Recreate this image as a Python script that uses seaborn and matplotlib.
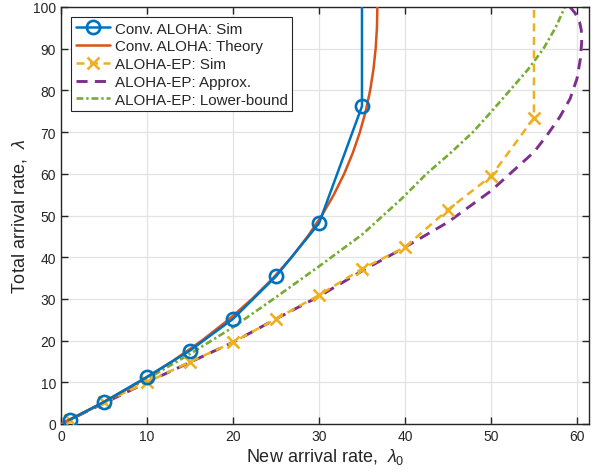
import matplotlib
matplotlib.use("Agg")
import matplotlib.pyplot as plt
import seaborn as sns

# ---- data ----
# Conv. ALOHA: Sim  (x = new arrival rate, y = total arrival rate)
conv_sim_x = [1, 5, 10, 15, 20, 25, 30, 35, 35]
conv_sim_y = [1.0, 5.3, 11.3, 17.6, 25.2, 35.4, 48.1, 76.2, 105]

# Conv. ALOHA: Theory
conv_th_y = [0, 5, 10, 15, 20, 25, 30, 35, 40, 45, 50, 55, 60, 65, 70, 75, 80, 85, 90, 95, 100, 105]
conv_th_x = [0, 4.76, 9.05, 12.91, 16.37, 19.47, 22.22, 24.66, 26.81, 28.69, 30.33, 31.73,
             32.93, 33.93, 34.76, 35.43, 35.95, 36.33, 36.59, 36.74, 36.79, 36.75]

# ALOHA-EP: Sim
ep_sim_x = [1, 5, 10, 15, 20, 25, 30, 35, 40, 45, 50, 55, 55]
ep_sim_y = [1.0, 5.2, 10.0, 14.9, 19.6, 25.2, 30.9, 37.2, 42.4, 51.4, 59.4, 73.4, 105]

# ALOHA-EP: Approx.
ep_apx_y = [0, 5, 10, 19.6, 25.2, 30.6, 36.7, 42.4, 48.4, 55.9, 60, 65.2, 69.2, 73.6, 78,
            82.8, 87.6, 91.6, 94.5, 96.4, 98.5, 100, 102]
ep_apx_x = [0, 5, 10, 20, 25, 30, 35, 40, 45, 50, 52.2, 55, 56.5, 58.0, 59.2,
            60.0, 60.4, 60.55, 60.5, 60.3, 59.8, 59.2, 58.4]

# ALOHA-EP: Lower-bound
ep_lb_y = [0, 5, 10.8, 16.8, 23.2, 30.4, 37.8, 45.4, 54, 60, 65, 70, 74.8, 80, 85, 90, 95, 100, 102]
ep_lb_x = [0, 4.9, 10, 15, 20, 25, 30, 35, 39.6, 42.5, 45.3, 47.9, 50, 52.2, 54.3, 56.1, 57.5, 58.6, 59.0]

labels = ["Conv. ALOHA: Sim", "Conv. ALOHA: Theory", "ALOHA-EP: Sim",
          "ALOHA-EP: Approx.", "ALOHA-EP: Lower-bound"]

# ---- style ----
sns.set_style("ticks")
plt.rcParams['font.family'] = ['Liberation Sans', 'DejaVu Sans']
plt.rcParams['mathtext.fontset'] = 'custom'
plt.rcParams['mathtext.it'] = 'Liberation Sans:italic'
plt.rcParams['mathtext.rm'] = 'Liberation Sans'

BLUE = '#0072BD'
ORANGE = '#D95319'
YELLOW = '#EDB120'
PURPLE = '#7E2F8E'
GREEN = '#77AC30'
DARK = '#262626'

fig = plt.figure(figsize=(6.02, 4.77), dpi=100)
ax = fig.add_axes([61/602, 1 - 425/477, (589-61)/602, (425-8)/477])

LW = 1.8
sns.lineplot(x=conv_sim_x, y=conv_sim_y, ax=ax, sort=False, estimator=None,
             color=BLUE, lw=LW, marker='o', markersize=9.5, markerfacecolor='none',
             markeredgecolor=BLUE, markeredgewidth=1.9, markevery=list(range(8)),
             label=labels[0], zorder=5)
sns.lineplot(x=conv_th_x, y=conv_th_y, ax=ax, sort=False, estimator=None,
             color=ORANGE, lw=LW, label=labels[1], zorder=4)
sns.lineplot(x=ep_sim_x, y=ep_sim_y, ax=ax, sort=False, estimator=None,
             color=YELLOW, lw=LW, linestyle=(0, (3.2, 2.2)), marker='x',
             markersize=9, markeredgewidth=1.9, markeredgecolor=YELLOW,
             markevery=list(range(12)), label=labels[2], zorder=3)
sns.lineplot(x=ep_apx_x, y=ep_apx_y, ax=ax, sort=False, estimator=None,
             color=PURPLE, lw=2.1, linestyle=(0, (3.8, 2.5)), label=labels[3], zorder=2)
sns.lineplot(x=ep_lb_x, y=ep_lb_y, ax=ax, sort=False, estimator=None,
             color=GREEN, lw=1.9, linestyle=(0, (2.6, 1.1, 0.9, 1.1)), label=labels[4], zorder=2)

ax.set_xlim(0, 61.4)
ax.set_ylim(0, 100)
ax.set_xticks(range(0, 61, 10))
ax.set_yticks(range(0, 101, 10))
ax.grid(True, color='#e3e3e3', lw=0.9)
ax.set_axisbelow(True)
ax.tick_params(direction='in', top=True, right=True, length=5, width=1,
               colors=DARK, labelsize=10, labelcolor=DARK)
for s in ax.spines.values():
    s.set_color(DARK)
    s.set_linewidth(1.0)

ax.set_xlabel(r'New arrival rate,  $\lambda_0$', fontsize=13, color=DARK, labelpad=2)
ax.set_ylabel(r'Total arrival rate,  $\lambda$', fontsize=13, color=DARK, labelpad=3)

leg = ax.legend(loc='upper left', bbox_to_anchor=(0.019, 0.976), fontsize=10.9,
                frameon=True, fancybox=False, framealpha=1, edgecolor=DARK,
                handlelength=2.3, handletextpad=0.3, borderpad=0.3, labelspacing=0.25,
                borderaxespad=0)
leg.get_frame().set_linewidth(0.8)

fig.savefig('out.png', dpi=100)
